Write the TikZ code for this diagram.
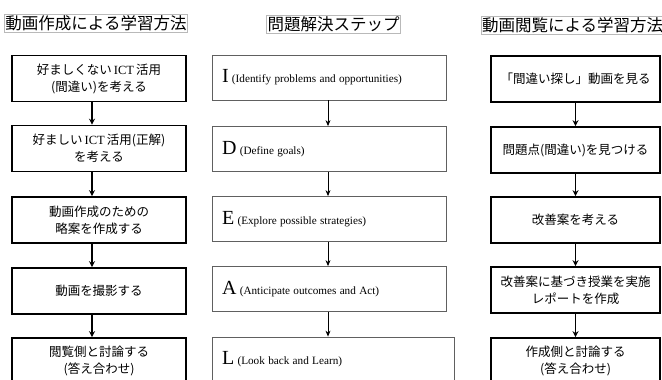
\documentclass[tikz,border=0pt]{standalone}
\usepackage{fontspec}
\setmainfont{Liberation Serif}
\newfontfamily\jp{Noto Sans CJK JP}
\usetikzlibrary{arrows.meta}
\tikzset{
  ttl/.style={draw=gray!55, line width=0.6pt, inner xsep=1pt, inner ysep=1.5pt, font=\jp\fontsize{16.5}{18}\selectfont},
  sidebox/.style={draw=black, line width=1.6pt, minimum height=46pt, align=center, font=\jp\fontsize{12.5}{17}\selectfont, inner sep=0pt},
  lbox/.style={sidebox, minimum width=174pt},
  rbox/.style={sidebox, minimum width=169pt},
  midbox/.style={draw=gray!75!black, line width=0.8pt, minimum height=45pt, inner xsep=10pt, align=left, text width=#1},
  thickarr/.style={line width=1.6pt, -{Stealth[length=6pt,width=6pt]}},
  thinarr/.style={line width=0.8pt, -{Stealth[length=6pt,width=5pt]}},
}
\newcommand{\biglet}[1]{{\fontsize{20}{20}\selectfont #1}}
\newcommand{\smtxt}[1]{{\fontsize{11.2}{12}\selectfont #1}}
\begin{document}
\begin{tikzpicture}[x=1pt,y=-1pt]
\useasboundingbox (0,0) rectangle (662,380);
\clip (0,0) rectangle (662,380);
% titles
\node[ttl] (t1) at (96,23) {動画作成による学習方法};
\node[ttl] (t2) at (333.5,24) {問題解決ステップ};
\node[ttl] (t3) at (572.5,25) {動画閲覧による学習方法};
% left column
\node[lbox] (l1) at (99,78.5) {好ましくない{\rmfamily\,ICT\,}活用\\(間違い)を考える};
\node[lbox] (l2) at (99,148.5) {好ましい{\rmfamily\,ICT\,}活用(正解)\\を考える};
\node[lbox] (l3) at (99,220) {動画作成のための\\略案を作成する};
\node[lbox] (l4) at (99,291) {動画を撮影する};
\node[lbox] (l5) at (99,361) {閲覧側と討論する\\(答え合わせ)};
\coordinate (lx) at (92,0);
\foreach \a/\b in {l1/l2,l2/l3,l3/l4,l4/l5}
  \draw[thickarr] (\a.south -| lx) -- (\b.north -| lx);
% middle column
\node[midbox=214pt] (m1) at (329,77.5) {\biglet{I} \smtxt{(Identify problems and opportunities)}};
\node[midbox=214pt] (m2) at (329,149) {\biglet{D} \smtxt{(Define goals)}};
\node[midbox=214pt] (m3) at (329,219) {\biglet{E} \smtxt{(Explore possible strategies)}};
\node[midbox=214pt] (m4) at (329,289) {\biglet{A} \smtxt{(Anticipate outcomes and Act)}};
\node[midbox=222pt] (m5) at (333,359.5) {\biglet{L} \smtxt{(Look back and Learn)}};
\coordinate (mx) at (328,0);
\foreach \a/\b in {m1/m2,m2/m3,m3/m4,m4/m5}
  \draw[thinarr] (\a.south -| mx) -- (\b.north -| mx);
% right column
\node[rbox] (r1) at (575.5,79) {「間違い探し」動画を見る};
\node[rbox] (r2) at (575.5,150) {問題点(間違い)を見つける};
\node[rbox] (r3) at (575.5,220) {改善案を考える};
\node[rbox] (r4) at (575.5,290) {改善案に基づき授業を実施\\レポートを作成};
\node[rbox] (r5) at (575.5,361) {作成側と討論する\\(答え合わせ)};
\foreach \a/\b in {r1/r2,r2/r3,r3/r4,r4/r5}
  \draw[thickarr] (\a.south) -- (\b.north);
\end{tikzpicture}
\end{document}
